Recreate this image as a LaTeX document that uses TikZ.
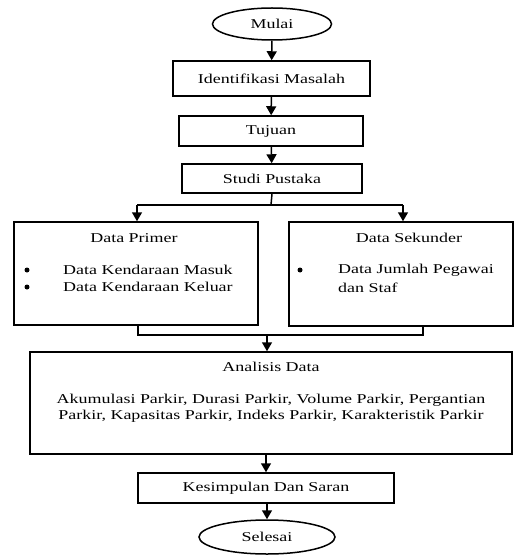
\documentclass[tikz,border=0pt]{standalone}
\usepackage{fontspec}
\setmainfont{Liberation Serif}[FakeStretch=1.33]
\usetikzlibrary{arrows.meta,shapes.geometric}

\begin{document}
\begin{tikzpicture}[
  x=1pt, y=-1pt,
  box/.style={rectangle, draw=black, line width=1.5pt, inner sep=0pt, fill=white},
  term/.style={ellipse, draw=black, line width=1.5pt, inner sep=0pt, fill=white},
  txt/.style={font=\fontsize{13.5}{16.5}\selectfont, inner sep=0pt},
  dot/.style={circle, fill=black, inner sep=0pt, minimum size=5pt},
  flow/.style={line width=1.5pt, -{Triangle[width=10pt,length=9pt]}},
  link/.style={line width=1.5pt}
]
\useasboundingbox (0,0) rectangle (531,556);

% Top: start and first steps
\node[term, minimum width=119, minimum height=32] (mulai) at (272,24) {};
\node[txt] (tmulai) at (272,24) {Mulai};
\node[box, minimum width=197, minimum height=35] (ident) at (271.5,78.5) {};
\node[txt] (tident) at (271.5,78.5) {Identifikasi Masalah};
\node[box, minimum width=184, minimum height=30] (tujuan) at (271,131) {};
\node[txt] (ttujuan) at (271,131) {Tujuan};
\node[box, minimum width=180, minimum height=29] (studi) at (272,178.5) {};
\node[txt] (tstudi) at (272,178.5) {Studi Pustaka};
\draw[flow] (mulai) -- (ident);
\draw[flow] (ident) -- (tujuan);
\draw[flow] (tujuan) -- (studi);

% Split into the two data boxes
\node[box, minimum width=244, minimum height=103] (primer) at (136,273.5) {};
\node[box, minimum width=224, minimum height=104] (sekunder) at (401,274) {};
\coordinate (split) at (271,205);
\coordinate (splitL) at (137,205);
\coordinate (splitR) at (403,205);
\draw[link] (studi.south) -- (split);
\draw[link] (splitL) -- (splitR);
\draw[flow] (splitL) -- (splitL |- primer.north);
\draw[flow] (splitR) -- (splitR |- sekunder.north);

% Data Primer
\node[txt] (tprimer) at (134,238) {Data Primer};
\node[dot] (bp1) at (27,270) {};
\node[dot] (bp2) at (27,287) {};
\node[txt, anchor=west] (lp1) at (63,270) {Data Kendaraan Masuk};
\node[txt, anchor=west] (lp2) at (63,287) {Data Kendaraan Keluar};

% Data Sekunder
\node[txt] (tsekunder) at (409,238) {Data Sekunder};
\node[dot] (bs1) at (300,270) {};
\node[txt, anchor=west] (ls1) at (338,270) {Data Jumlah Pegawai};
\node[txt, anchor=west] (ls2) at (338,288) {dan Staf};

% Merge into analysis
\node[box, minimum width=482, minimum height=102] (analisis) at (271,403) {};
\coordinate (mergeL) at (138,335);
\coordinate (mergeR) at (423,335);
\coordinate (merge) at (267,335);
\draw[link] (mergeL |- primer.south) -- (mergeL) -- (mergeR) -- (mergeR |- sekunder.south);
\draw[flow] (merge) -- (merge |- analisis.north);
\node[txt] (tanalisis) at (271,367) {Analisis Data};
\node[txt] (la1) at (271,400) {Akumulasi Parkir, Durasi Parkir, Volume Parkir, Pergantian};
\node[txt] (la2) at (271,416) {Parkir, Kapasitas Parkir, Indeks Parkir, Karakteristik Parkir};

% Bottom: conclusion and end
\node[box, minimum width=256, minimum height=30] (kesimpulan) at (266,488) {};
\node[txt] (tkesimpulan) at (266,488) {Kesimpulan Dan Saran};
\node[term, minimum width=136, minimum height=34] (selesai) at (267,537) {};
\node[txt] (tselesai) at (267,537) {Selesai};
\draw[flow] (analisis.south -| kesimpulan.north) -- (kesimpulan.north);
\draw[flow] (kesimpulan.south -| selesai.north) -- (selesai.north);
\end{tikzpicture}
\end{document}
